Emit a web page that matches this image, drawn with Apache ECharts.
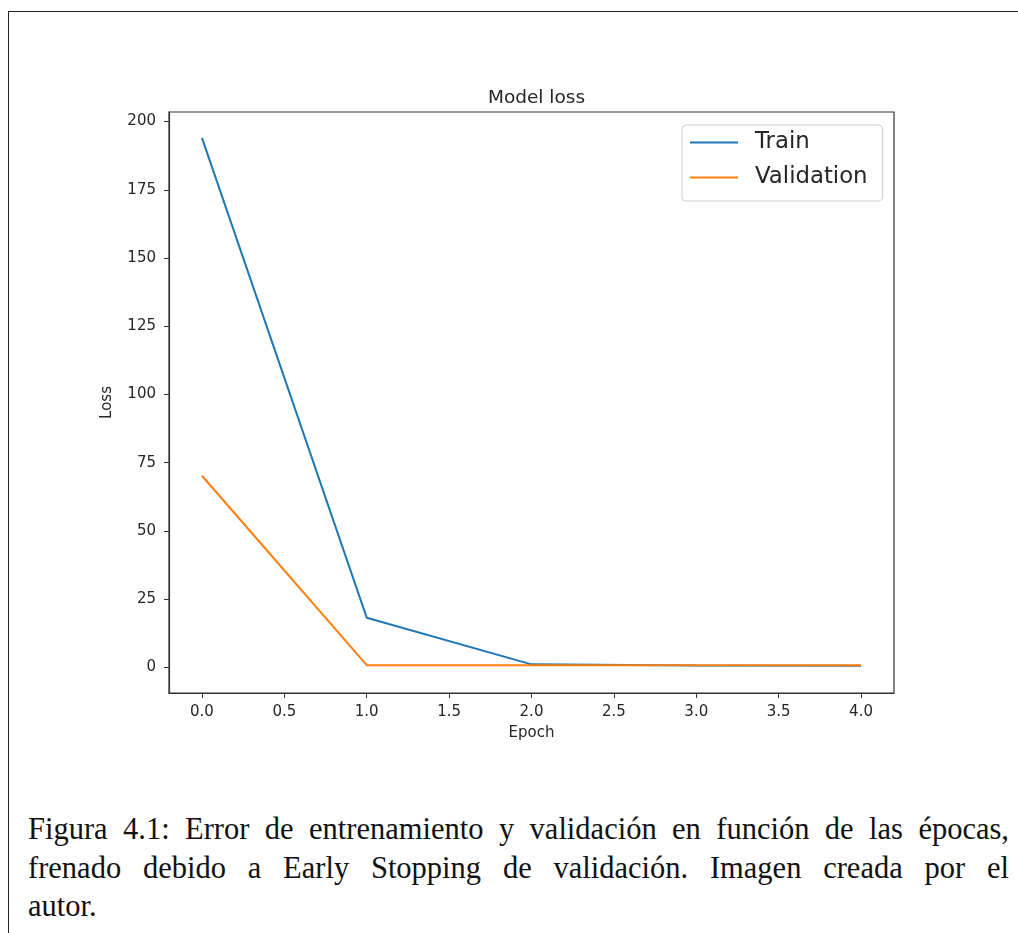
<!DOCTYPE html>
<html>
<head>
<meta charset="utf-8">
<script src="https://cdn.jsdelivr.net/npm/echarts@6/dist/echarts.min.js"></script>
<style>
  html, body { margin: 0; padding: 0; background: #fff; overflow: hidden; }
  #frame { position: absolute; left: 8px; top: 11px; width: 1100px; height: 1000px; border: 1.5px solid #222; }
  #chart { position: absolute; left: 0; top: 0; width: 1018px; height: 790px; }
  #caption { position: absolute; left: 28px; top: 810px; width: 981px;
    font-family: "Liberation Serif", serif; font-size: 30.5px; line-height: 38.5px; color: #111; }
  #caption div { white-space: nowrap; }
  #caption .j { text-align: justify; text-align-last: justify; }
</style>
</head>
<body>
<div id="frame"></div>
<div id="chart"></div>
<div id="caption">
  <div class="j">Figura 4.1: Error de entrenamiento y validación en función de las épocas,</div>
  <div class="j">frenado debido a Early Stopping de validación. Imagen creada por el</div>
  <div>autor.</div>
</div>
<script>
var epochs = [0, 1, 2, 3, 4];
var trainLoss = [194.0, 18.2, 1.1, 0.7, 0.6];
var valLoss = [70.2, 0.8, 0.8, 0.8, 0.8];
var xTicks = [0, 0.5, 1, 1.5, 2, 2.5, 3, 3.5, 4];
var yTicks = [0, 25, 50, 75, 100, 125, 150, 175, 200];

function pairs(ys) {
  return epochs.map(function (x, i) { return [x, ys[i]]; });
}

var textColor = '#262626';
var myChart = echarts.init(document.getElementById('chart'));
myChart.setOption({
  animation: false,
  title: {
    text: 'Model loss',
    left: 531.5,
    top: 84,
    textAlign: 'center',
    textStyle: { fontFamily: 'DejaVu Sans', fontSize: 18.5, fontWeight: 'normal', color: textColor }
  },
  legend: {
    orient: 'vertical',
    left: 682,
    top: 125,
    padding: [6, 15, 12, 8],
    itemGap: 12,
    itemWidth: 48,
    itemHeight: 2.2,
    icon: 'rect',
    backgroundColor: 'rgba(255,255,255,0.8)',
    borderColor: '#d0d0d0',
    borderWidth: 1,
    borderRadius: 4,
    textStyle: { fontFamily: 'DejaVu Sans', fontSize: 22.8, color: textColor, padding: [0, 0, 0, 12] },
    data: ['Train', 'Validation']
  },
  grid: {
    left: 169,
    top: 112,
    width: 725,
    height: 581,
    show: true,
    borderColor: '#333',
    borderWidth: 1.2
  },
  xAxis: {
    type: 'value',
    min: -0.2,
    max: 4.2,
    name: 'Epoch',
    nameLocation: 'middle',
    nameGap: 33,
    nameTextStyle: { fontFamily: 'DejaVu Sans', fontSize: 15, color: textColor },
    splitLine: { show: false },
    axisLine: { show: true, onZero: false, lineStyle: { color: '#333', width: 1.2 } },
    axisTick: { show: true, length: 5, customValues: xTicks, lineStyle: { color: '#333' } },
    axisLabel: {
      customValues: xTicks,
      margin: 12,
      fontFamily: 'DejaVu Sans',
      fontSize: 15,
      color: textColor,
      formatter: function (v) { return v.toFixed(1); }
    }
  },
  yAxis: {
    type: 'value',
    min: -9.4,
    max: 203.5,
    name: 'Loss',
    nameLocation: 'middle',
    nameGap: 54,
    nameTextStyle: { fontFamily: 'DejaVu Sans', fontSize: 15, color: textColor },
    splitLine: { show: false },
    axisLine: { show: true, onZero: false, lineStyle: { color: '#333', width: 1.2 } },
    axisTick: { show: true, length: 5, customValues: yTicks, lineStyle: { color: '#333' } },
    axisLabel: {
      customValues: yTicks,
      margin: 13,
      fontFamily: 'DejaVu Sans',
      fontSize: 15,
      color: textColor
    }
  },
  series: [
    {
      name: 'Train',
      type: 'line',
      symbol: 'none',
      color: '#1f77b4',
      lineStyle: { width: 2 },
      data: pairs(trainLoss)
    },
    {
      name: 'Validation',
      type: 'line',
      symbol: 'none',
      color: '#ff7f0e',
      lineStyle: { width: 2 },
      data: pairs(valLoss)
    }
  ]
});
</script>
</body>
</html>
